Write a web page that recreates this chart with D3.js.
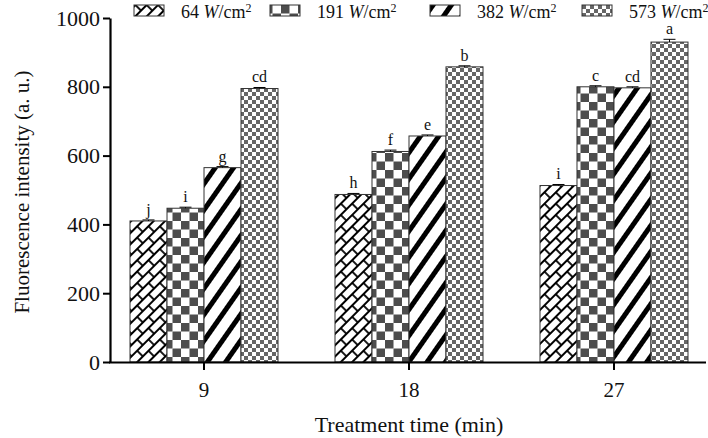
<!DOCTYPE html>
<html><head><meta charset="utf-8">
<script src="https://cdn.jsdelivr.net/npm/d3@7"></script>
<style>body{margin:0;background:#fff}svg{display:block}text{font-family:"Liberation Serif","Times New Roman",serif;fill:#111}</style>
</head><body>
<script>
const categories = ["9", "18", "27"];
const seriesNames = ["64", "191", "382", "573"];
const v64  = [410, 487, 513];
const v191 = [447, 612, 800];
const v382 = [565, 657, 797];
const v573 = [795, 858, 930];
const e64  = [3, 3, 3];
const e191 = [3, 4, 3];
const e382 = [3, 3, 3];
const e573 = [3, 3, 8];
const l64  = ["j", "h", "i"];
const l191 = ["i", "f", "c"];
const l382 = ["g", "e", "cd"];
const l573 = ["cd", "b", "a"];
const yTicks = [0, 200, 400, 600, 800, 1000];

const values = [v64, v191, v382, v573];
const errs = [e64, e191, e382, e573];
const letters = [l64, l191, l382, l573];

const W = 708, H = 438;
const svg = d3.select("body").append("svg").attr("width", W).attr("height", H);
const defs = svg.append("defs");

// pattern 0: brick diagonal
const p0 = defs.append("pattern").attr("id","pat0").attr("patternUnits","userSpaceOnUse")
  .attr("width",16).attr("height",16).attr("patternTransform","rotate(-45)");
p0.append("rect").attr("width",16).attr("height",16).attr("fill","#fff");
p0.append("path").attr("d","M0,1H16M0,9H16M1,0V9M9,8V16").attr("stroke","#000").attr("stroke-width",1.8).attr("fill","none");
// pattern 1: big checker
const p1 = defs.append("pattern").attr("id","pat1").attr("patternUnits","userSpaceOnUse")
  .attr("width",17).attr("height",17).attr("x",130).attr("y",0);
p1.append("rect").attr("width",17).attr("height",17).attr("fill","#fff");
p1.append("rect").attr("width",8.5).attr("height",8.5).attr("fill","#4d4d4d");
p1.append("rect").attr("x",8.5).attr("y",8.5).attr("width",8.5).attr("height",8.5).attr("fill","#4d4d4d");
// pattern 2: diagonal thick stripes
const p2 = defs.append("pattern").attr("id","pat2").attr("patternUnits","userSpaceOnUse")
  .attr("width",15).attr("height",15).attr("patternTransform","rotate(35)");
p2.append("rect").attr("width",15).attr("height",15).attr("fill","#fff");
p2.append("rect").attr("width",5).attr("height",15).attr("fill","#000");
// pattern 3: small checker
const p3 = defs.append("pattern").attr("id","pat3").attr("patternUnits","userSpaceOnUse")
  .attr("width",8).attr("height",8);
p3.append("rect").attr("width",8).attr("height",8).attr("fill","#fff");
p3.append("rect").attr("width",4).attr("height",4).attr("fill","#666");
p3.append("rect").attr("x",4).attr("y",4).attr("width",4).attr("height",4).attr("fill","#666");

const fills = ["url(#pat0)","url(#pat1)","url(#pat2)","url(#pat3)"];

const y = d3.scaleLinear().domain([0, 1000]).range([362, 18]);
const x0 = d3.scaleBand().domain(categories).range([110, 708]).paddingInner(0.278).paddingOuter(0.0976);
const x1 = d3.scaleBand().domain(seriesNames).range([0, x0.bandwidth()]).padding(0);

const data = [];
categories.forEach((c, i) => seriesNames.forEach((s, j) => data.push({c, s, j, v: values[j][i], e: errs[j][i], l: letters[j][i]})));

const g = svg.append("g");
g.selectAll("rect.bar").data(data).join("rect").attr("class","bar")
  .attr("x", d => x0(d.c) + x1(d.s))
  .attr("y", d => y(d.v))
  .attr("width", x1.bandwidth())
  .attr("height", d => y(0) - y(d.v))
  .attr("fill", d => fills[d.j])
  .attr("stroke", "#333").attr("stroke-width", 1);

const eg = g.selectAll("g.err").data(data).join("g").attr("class","err");
eg.append("line")
  .attr("x1", d => x0(d.c) + x1(d.s) + x1.bandwidth()/2)
  .attr("x2", d => x0(d.c) + x1(d.s) + x1.bandwidth()/2)
  .attr("y1", d => y(d.v)).attr("y2", d => y(d.v + d.e))
  .attr("stroke","#000").attr("stroke-width",1);
eg.append("line")
  .attr("x1", d => x0(d.c) + x1(d.s) + x1.bandwidth()/2 - 6)
  .attr("x2", d => x0(d.c) + x1(d.s) + x1.bandwidth()/2 + 6)
  .attr("y1", d => y(d.v + d.e)).attr("y2", d => y(d.v + d.e))
  .attr("stroke","#000").attr("stroke-width",1);
g.selectAll("text.lab").data(data).join("text").attr("class","lab")
  .attr("x", d => x0(d.c) + x1(d.s) + x1.bandwidth()/2)
  .attr("y", d => y(d.v + d.e) - 5)
  .attr("text-anchor","middle").attr("font-size",16)
  .text(d => d.l);

const xAxis = svg.append("g").attr("transform","translate(0,362)")
  .call(d3.axisBottom(x0).tickSize(8).tickSizeOuter(0).tickPadding(12));
xAxis.select(".domain").attr("stroke","#000").attr("stroke-width",2.2).attr("d","M109,0.5H706");
xAxis.selectAll(".tick line").attr("stroke","#000").attr("stroke-width",2);
xAxis.selectAll(".tick text").attr("font-size",21).attr("font-family","Liberation Serif").attr("fill","#111");

const yAxis = svg.append("g").attr("transform","translate(110,0)")
  .call(d3.axisLeft(y).tickValues(yTicks).tickFormat(d3.format("d")).tickSize(7).tickSizeOuter(0).tickPadding(3));
yAxis.select(".domain").attr("stroke","#000").attr("stroke-width",2.2);
yAxis.selectAll(".tick line").attr("stroke","#000").attr("stroke-width",2);
yAxis.selectAll(".tick text").attr("font-size",22).attr("font-family","Liberation Serif").attr("fill","#111");

svg.append("text").attr("transform","translate(29,192) rotate(-90)")
  .attr("text-anchor","middle").attr("font-size",21).text("Fluorescence intensity (a. u.)");
svg.append("text").attr("x", 409).attr("y", 432)
  .attr("text-anchor","middle").attr("font-size",22).text("Treatment time (min)");

const legX = [134, 270, 430, 582];
const leg = svg.append("g").selectAll("g").data(seriesNames).join("g")
  .attr("transform", (d, i) => `translate(${legX[i]},5)`);
leg.append("rect").attr("width",30).attr("height",11).attr("fill",(d,i)=>fills[i]).attr("stroke","#333").attr("stroke-width",1);
const lt = leg.append("text").attr("x",47).attr("y",13).attr("font-size",18);
lt.append("tspan").text(d => d + " ");
lt.append("tspan").attr("font-style","italic").text("W");
lt.append("tspan").text("/cm");
lt.append("tspan").attr("dy",-6).attr("font-size",12).text("2");
</script>
</body></html>
